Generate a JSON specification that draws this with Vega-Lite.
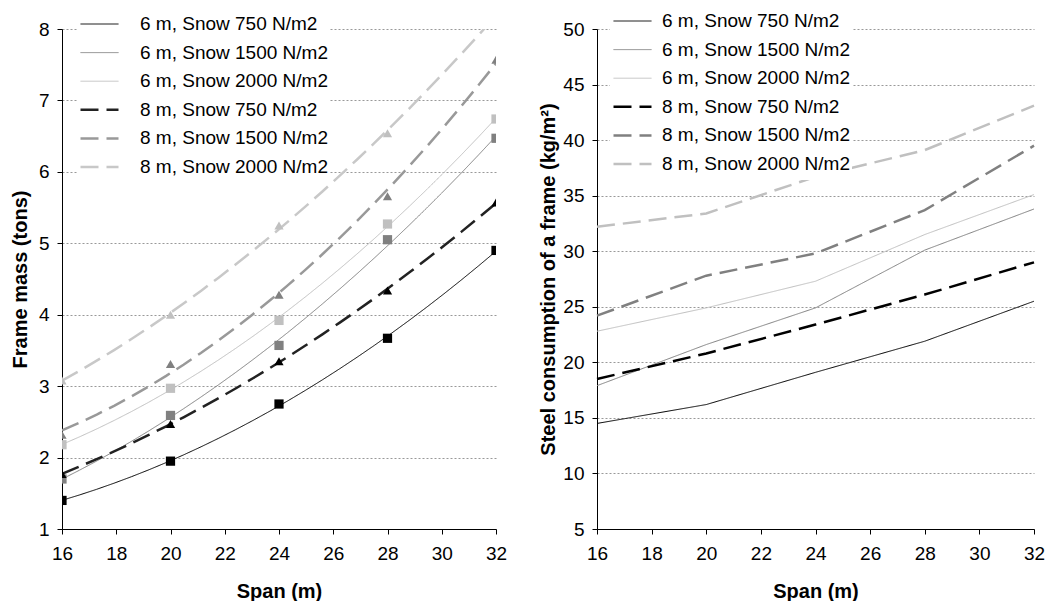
{
  "$schema": "https://vega.github.io/schema/vega-lite/v6.json",
  "padding": {"left": 10, "top": 5, "right": 10, "bottom": 0},
  "background": "white",
  "config": {
    "font": "Liberation Sans",
    "view": {"stroke": null},
    "axis": {
      "domainColor": "black", "tickColor": "black", "tickSize": 5,
      "labelFontSize": 19, "labelColor": "black", "labelPadding": 8,
      "titleFontSize": 20, "titleFontWeight": "bold", "titleColor": "black",
      "gridColor": "#999999", "gridDash": [2, 2], "gridWidth": 1, "labelFlush": false
    },
    "axisX": {"grid": false, "titlePadding": 18, "labelPadding": 10},
    "axisY": {"titlePadding": 8},
    "legend": {"labelLimit": 0}
  },
  "datasets": {
    "frames": [
      {"series": "6 m, Snow 750 N/m2", "spacing": "6 m", "span": 16, "mass": 1.40, "steel": 14.5},
      {"series": "6 m, Snow 750 N/m2", "spacing": "6 m", "span": 20, "mass": 1.95, "steel": 16.2},
      {"series": "6 m, Snow 750 N/m2", "spacing": "6 m", "span": 24, "mass": 2.75, "steel": 19.1},
      {"series": "6 m, Snow 750 N/m2", "spacing": "6 m", "span": 28, "mass": 3.67, "steel": 21.9},
      {"series": "6 m, Snow 750 N/m2", "spacing": "6 m", "span": 32, "mass": 4.90, "steel": 25.5},
      {"series": "6 m, Snow 1500 N/m2", "spacing": "6 m", "span": 16, "mass": 1.70, "steel": 17.9},
      {"series": "6 m, Snow 1500 N/m2", "spacing": "6 m", "span": 20, "mass": 2.59, "steel": 21.6},
      {"series": "6 m, Snow 1500 N/m2", "spacing": "6 m", "span": 24, "mass": 3.57, "steel": 24.9},
      {"series": "6 m, Snow 1500 N/m2", "spacing": "6 m", "span": 28, "mass": 5.05, "steel": 30.1},
      {"series": "6 m, Snow 1500 N/m2", "spacing": "6 m", "span": 32, "mass": 6.47, "steel": 33.8},
      {"series": "6 m, Snow 2000 N/m2", "spacing": "6 m", "span": 16, "mass": 2.18, "steel": 22.8},
      {"series": "6 m, Snow 2000 N/m2", "spacing": "6 m", "span": 20, "mass": 2.97, "steel": 24.9},
      {"series": "6 m, Snow 2000 N/m2", "spacing": "6 m", "span": 24, "mass": 3.92, "steel": 27.3},
      {"series": "6 m, Snow 2000 N/m2", "spacing": "6 m", "span": 28, "mass": 5.27, "steel": 31.5},
      {"series": "6 m, Snow 2000 N/m2", "spacing": "6 m", "span": 32, "mass": 6.74, "steel": 35.1},
      {"series": "8 m, Snow 750 N/m2", "spacing": "8 m", "span": 16, "mass": 1.77, "steel": 18.5},
      {"series": "8 m, Snow 750 N/m2", "spacing": "8 m", "span": 20, "mass": 2.47, "steel": 20.8},
      {"series": "8 m, Snow 750 N/m2", "spacing": "8 m", "span": 24, "mass": 3.35, "steel": 23.4},
      {"series": "8 m, Snow 750 N/m2", "spacing": "8 m", "span": 28, "mass": 4.34, "steel": 26.1},
      {"series": "8 m, Snow 750 N/m2", "spacing": "8 m", "span": 32, "mass": 5.57, "steel": 29.0},
      {"series": "8 m, Snow 1500 N/m2", "spacing": "8 m", "span": 16, "mass": 2.32, "steel": 24.2},
      {"series": "8 m, Snow 1500 N/m2", "spacing": "8 m", "span": 20, "mass": 3.31, "steel": 27.8},
      {"series": "8 m, Snow 1500 N/m2", "spacing": "8 m", "span": 24, "mass": 4.28, "steel": 29.8},
      {"series": "8 m, Snow 1500 N/m2", "spacing": "8 m", "span": 28, "mass": 5.66, "steel": 33.7},
      {"series": "8 m, Snow 1500 N/m2", "spacing": "8 m", "span": 32, "mass": 7.57, "steel": 39.5},
      {"series": "8 m, Snow 2000 N/m2", "spacing": "8 m", "span": 16, "mass": 3.08, "steel": 32.2},
      {"series": "8 m, Snow 2000 N/m2", "spacing": "8 m", "span": 20, "mass": 4.00, "steel": 33.4},
      {"series": "8 m, Snow 2000 N/m2", "spacing": "8 m", "span": 24, "mass": 5.25, "steel": 36.7},
      {"series": "8 m, Snow 2000 N/m2", "spacing": "8 m", "span": 28, "mass": 6.54, "steel": 39.1},
      {"series": "8 m, Snow 2000 N/m2", "spacing": "8 m", "span": 32, "mass": 8.20, "steel": 43.1}
    ]
  },
  "spacing": 31,
  "resolve": {
    "scale": {"color": "independent", "fill": "independent", "strokeDash": "independent", "strokeWidth": "independent", "shape": "independent", "x": "independent", "y": "independent"},
    "legend": {"color": "independent", "strokeDash": "independent", "strokeWidth": "independent"}
  },
  "hconcat": [
    {
      "width": 434,
      "height": 500,
      "data": {"name": "frames"},
      "layer": [
        {
          "transform": [{"regression": "mass", "on": "span", "groupby": ["series"], "method": "poly", "order": 2}],
          "mark": {"type": "line", "clip": true},
          "encoding": {
            "x": {"field": "span", "type": "quantitative", "scale": {"domain": [16, 32]}, "axis": {"values": [16, 18, 20, 22, 24, 26, 28, 30, 32], "title": "Span (m)"}},
            "y": {"field": "mass", "type": "quantitative", "scale": {"domain": [1, 8]}, "axis": {"values": [1, 2, 3, 4, 5, 6, 7, 8], "format": "d", "title": "Frame mass (tons)"}},
            "color": {"field": "series", "type": "nominal",
              "scale": {"domain": ["6 m, Snow 750 N/m2", "6 m, Snow 1500 N/m2", "6 m, Snow 2000 N/m2", "8 m, Snow 750 N/m2", "8 m, Snow 1500 N/m2", "8 m, Snow 2000 N/m2"], "range": ["#000000", "#808080", "#c0c0c0", "#222222", "#999999", "#c8c8c8"]},
              "legend": {"title": null, "orient": "none", "legendX": 15, "legendY": -21, "symbolType": "stroke", "symbolSize": 1444, "labelFontSize": 19, "labelColor": "black", "rowPadding": 0.6, "clipHeight": 28, "labelOffset": 20, "labelLimit": 0, "fillColor": "white", "padding": 2}},
            "strokeDash": {"field": "series", "type": "nominal",
              "scale": {"domain": ["6 m, Snow 750 N/m2", "6 m, Snow 1500 N/m2", "6 m, Snow 2000 N/m2", "8 m, Snow 750 N/m2", "8 m, Snow 1500 N/m2", "8 m, Snow 2000 N/m2"], "range": [[1, 0], [1, 0], [1, 0], [18, 8], [18, 8], [18, 8]]}},
            "strokeWidth": {"field": "series", "type": "nominal",
              "scale": {"type": "ordinal", "domain": ["6 m, Snow 750 N/m2", "6 m, Snow 1500 N/m2", "6 m, Snow 2000 N/m2", "8 m, Snow 750 N/m2", "8 m, Snow 1500 N/m2", "8 m, Snow 2000 N/m2"], "range": [1, 1, 1, 2.5, 2.5, 2.5]}}
          }
        },
        {
          "mark": {"type": "point", "filled": true, "opacity": 1, "size": 85, "clip": true, "strokeWidth": 0},
          "encoding": {
            "x": {"field": "span", "type": "quantitative"},
            "y": {"field": "mass", "type": "quantitative"},
            "fill": {"field": "series", "type": "nominal",
              "scale": {"domain": ["6 m, Snow 750 N/m2", "6 m, Snow 1500 N/m2", "6 m, Snow 2000 N/m2", "8 m, Snow 750 N/m2", "8 m, Snow 1500 N/m2", "8 m, Snow 2000 N/m2"], "range": ["#000000", "#808080", "#c0c0c0", "#000000", "#808080", "#c0c0c0"]},
              "legend": null},
            "shape": {"field": "spacing", "type": "nominal", "scale": {"domain": ["6 m", "8 m"], "range": ["square", "triangle-up"]}, "legend": null}
          }
        }
      ]
    },
    {
      "width": 437,
      "height": 500,
      "data": {"name": "frames"},
      "mark": {"type": "line"},
      "encoding": {
        "x": {"field": "span", "type": "quantitative", "scale": {"domain": [16, 32]}, "axis": {"values": [16, 18, 20, 22, 24, 26, 28, 30, 32], "title": "Span (m)"}},
        "y": {"field": "steel", "type": "quantitative", "scale": {"domain": [5, 50]}, "axis": {"values": [5, 10, 15, 20, 25, 30, 35, 40, 45, 50], "title": "Steel consumption of a frame (kg/m²)", "titlePadding": 4}},
        "color": {"field": "series", "type": "nominal",
          "scale": {"domain": ["6 m, Snow 750 N/m2", "6 m, Snow 1500 N/m2", "6 m, Snow 2000 N/m2", "8 m, Snow 750 N/m2", "8 m, Snow 1500 N/m2", "8 m, Snow 2000 N/m2"], "range": ["#000000", "#808080", "#c0c0c0", "#000000", "#808080", "#c0c0c0"]},
          "legend": {"title": null, "orient": "none", "legendX": 13, "legendY": -24, "symbolType": "stroke", "symbolSize": 1444, "labelFontSize": 19, "labelColor": "black", "rowPadding": 0.6, "clipHeight": 28, "labelOffset": 9, "labelLimit": 0, "fillColor": "white", "padding": 2}},
        "strokeDash": {"field": "series", "type": "nominal",
          "scale": {"domain": ["6 m, Snow 750 N/m2", "6 m, Snow 1500 N/m2", "6 m, Snow 2000 N/m2", "8 m, Snow 750 N/m2", "8 m, Snow 1500 N/m2", "8 m, Snow 2000 N/m2"], "range": [[1, 0], [1, 0], [1, 0], [18, 8], [18, 8], [18, 8]]}},
        "strokeWidth": {"field": "series", "type": "nominal",
          "scale": {"type": "ordinal", "domain": ["6 m, Snow 750 N/m2", "6 m, Snow 1500 N/m2", "6 m, Snow 2000 N/m2", "8 m, Snow 750 N/m2", "8 m, Snow 1500 N/m2", "8 m, Snow 2000 N/m2"], "range": [1, 1, 1, 2.5, 2.5, 2.5]}}
      }
    }
  ]
}
